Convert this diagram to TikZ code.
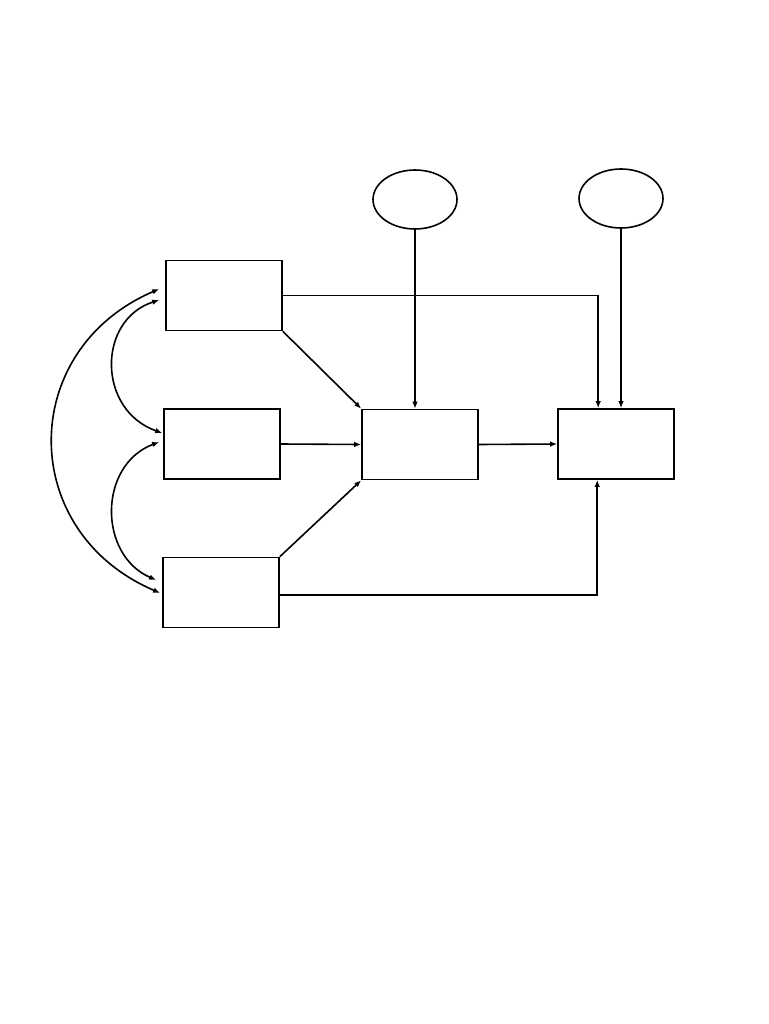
\documentclass[tikz,border=0pt]{standalone}
\usetikzlibrary{shapes.geometric,arrows.meta,calc}
\begin{document}
\begin{tikzpicture}[x=1pt,y=-1pt,
  box/.style={draw,line width=1.6pt,rectangle,minimum width=116pt,minimum height=70pt,inner sep=0pt},
  oval/.style={draw,line width=1.6pt,ellipse,minimum width=84pt,minimum height=59pt,inner sep=0pt},
  conn/.style={line width=1.6pt,-{Latex[length=7pt,width=5.5pt]}},
  dconn/.style={line width=1.6pt,{Latex[length=7pt,width=5.5pt]}-{Latex[length=7pt,width=5.5pt]}}]
\useasboundingbox (0,0) rectangle (768,1024);
\fill[white] (0,0) rectangle (768,1024);
\node[box] (A) at (224,295.5) {};
\node[box] (B) at (222,444) {};
\node[box] (C) at (221,592.5) {};
\node[box] (M) at (420,444.5) {};
\node[box] (R) at (616,444) {};
\node[oval] (E1) at (415,199.5) {};
\node[oval] (E2) at (621,198.5) {};
\coordinate (Rin1) at ($(R.north west)+(41,0)$);
\coordinate (Rin2) at ($(R.south west)+(40,0)$);
% straight connectors
\draw[conn] (A.east) -| (Rin1);
\draw[conn] (A.south east) -- (M.north west);
\draw[conn] (B.east) -- (M.west);
\draw[conn] (C.north east) -- (M.south west);
\draw[conn] ($(C.east)+(0,2.5)$) -| (Rin2);
\draw[conn] (M.east) -- (R.west);
\draw[conn] (E1.south) -- (E1.south |- M.north);
\draw[conn] (E2.south) -- (E2.south |- R.north);
% curved covariances
\coordinate (a1) at ($(A.west)+(-6,-6.5)$);
\coordinate (c1) at ($(C.west)+(-2,0.5)$);
\draw[dconn] (a1) .. controls (17,350) and (17,532) .. (c1);
\coordinate (a2) at ($(A.west)+(-6,4.5)$);
\coordinate (b2) at ($(B.west)+(-1,-11)$);
\draw[dconn] (a2) .. controls (97,320) and (97,410) .. (b2);
\coordinate (b3) at ($(B.west)+(-4,-2)$);
\coordinate (c3) at ($(C.west)+(-6,-12.5)$);
\draw[dconn] (b3) .. controls (98,465) and (98,555) .. (c3);
\end{tikzpicture}
\end{document}
